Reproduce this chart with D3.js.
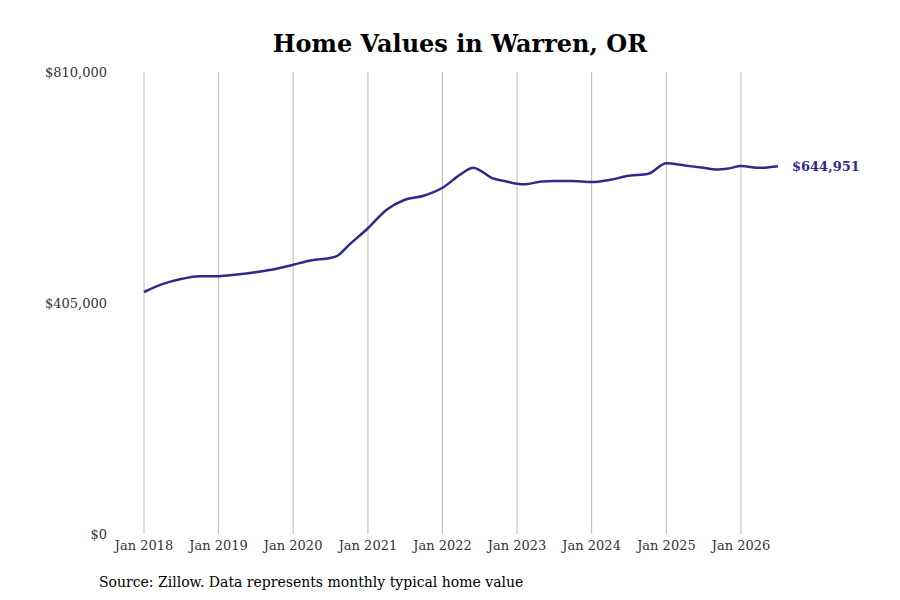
<!DOCTYPE html>
<html><head><meta charset="utf-8">
<script src="https://cdn.jsdelivr.net/npm/d3@7"></script>
<style>body{margin:0;background:#fff}</style>
</head><body><div id="chart"></div>
<script>
const dates = ["2018-01","2018-04","2018-07","2018-10","2019-01","2019-04","2019-07","2019-10","2020-01","2020-04","2020-07","2020-08","2020-10","2021-01","2021-04","2021-07","2021-10","2022-01","2022-04","2022-06","2022-07","2022-09","2022-11","2023-01","2023-02","2023-05","2023-07","2023-10","2024-01","2024-04","2024-07","2024-10","2025-01","2025-04","2025-07","2025-09","2025-11","2026-01","2026-04","2026-07"];
const values = [424300,438000,447000,452000,452000,455000,459000,464000,472000,480000,484000,487000,507000,536000,568000,586000,593000,607000,631000,642000,638000,624000,619000,614000,613000,618000,619000,619000,617000,621000,628000,631000,650000,646000,642000,639000,641000,645000,642000,644951];
const yTicks = [0,405000,810000];
const xYears = [2018,2019,2020,2021,2022,2023,2024,2025,2026];

const width = 900, height = 600;
const parse = d3.timeParse("%Y-%m");
const data = dates.map((d,i) => ({date: parse(d), value: values[i]}));

const svg = d3.select("#chart").append("svg").attr("width", width).attr("height", height)
    .style("font-family", "'DejaVu Serif', serif");

const x = d3.scaleTime().domain([new Date(2018,0,1), new Date(2026,0,1)]).range([144, 741]);
const y = d3.scaleLinear().domain([0, 810000]).range([534, 72]);

// vertical gridlines
svg.append("g").selectAll("line").data(xYears).join("line")
    .attr("x1", d => x(new Date(d,0,1))).attr("x2", d => x(new Date(d,0,1)))
    .attr("y1", 72).attr("y2", 534)
    .attr("stroke", "#bbb").attr("stroke-width", 1);

// x labels
svg.append("g").selectAll("text").data(xYears).join("text")
    .attr("x", d => x(new Date(d,0,1))).attr("y", 550)
    .attr("text-anchor", "middle").attr("font-size", 13).attr("fill", "#333")
    .text(d => "Jan " + d);

// y labels
svg.append("g").selectAll("text").data(yTicks).join("text")
    .attr("x", 107).attr("y", d => y(d) + 5)
    .attr("text-anchor", "end").attr("font-size", 13).attr("fill", "#333")
    .text(d => "$" + d3.format(",")(d));

const line = d3.line().x(d => x(d.date)).y(d => y(d.value)).curve(d3.curveMonotoneX);
svg.append("path").datum(data).attr("d", line)
    .attr("fill", "none").attr("stroke", "#2e2b8a").attr("stroke-width", 2.5);

const last = data[data.length-1];
svg.append("text").attr("x", x(last.date) + 14).attr("y", y(last.value) + 5)
    .attr("font-size", 13).attr("font-weight", "bold").attr("fill", "#2e2b8a")
    .text("$" + d3.format(",")(last.value));

svg.append("text").attr("x", 460).attr("y", 52).attr("text-anchor", "middle")
    .attr("font-size", 24).attr("font-weight", "bold").text("Home Values in Warren, OR");

svg.append("text").attr("x", 99).attr("y", 587).attr("font-size", 14)
    .text("Source: Zillow. Data represents monthly typical home value");
</script>
</body></html>
